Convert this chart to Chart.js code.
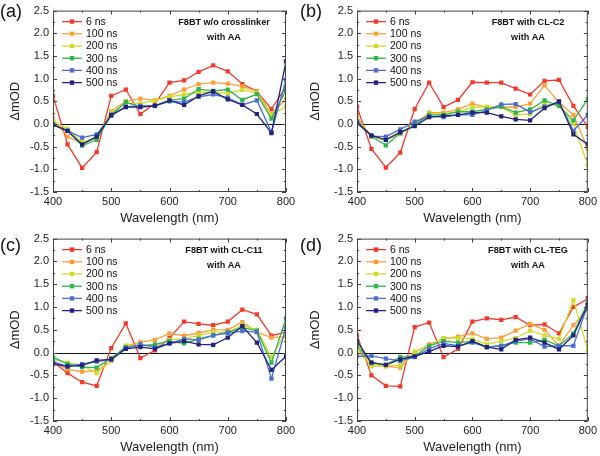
<!DOCTYPE html>
<html><head><meta charset="utf-8">
<script src="https://cdn.jsdelivr.net/npm/chart.js@4.4.0/dist/chart.umd.min.js"></script>
<style>
html,body{margin:0;padding:0;background:#fff;}
#wrap{position:relative;width:600px;height:456px;background:#fff;}
.p{position:absolute;width:300px;height:228px;}
canvas{display:block;}
</style></head><body>
<div id="wrap">
<div class="p" style="left:0;top:0"><canvas id="ca" width="300" height="228"></canvas></div>
<div class="p" style="left:300px;top:0"><canvas id="cb" width="300" height="228"></canvas></div>
<div class="p" style="left:0;top:228px"><canvas id="cc" width="300" height="228"></canvas></div>
<div class="p" style="left:300px;top:228px"><canvas id="cd" width="300" height="228"></canvas></div>
</div>
<script>
// ---- data ----
const wavelengths = [400,425,450,475,500,525,550,575,600,625,650,675,700,725,750,775,800];
const seriesLabels = ['6 ns','100 ns','200 ns','300 ns','400 ns','500 ns'];
const seriesColors = ['#f23a2c','#f9a03a','#cfdc2a','#2fb64a','#4a6fcf','#22237e'];
const xTickValues = [400,500,600,700,800];
const yTickValues = [-1.5,-1.0,-0.5,0.0,0.5,1.0,1.5,2.0,2.5];

// (a) F8BT w/o crosslinker with AA
const a_6ns   = [0.62,-0.45,-0.97,-0.62,0.62,0.76,0.22,0.45,0.91,0.96,1.15,1.29,1.16,0.88,0.72,0.33,0.82];
const a_100ns = [0.10,-0.28,-0.42,-0.30,0.28,0.50,0.56,0.52,0.62,0.76,0.88,0.91,0.89,0.83,0.72,0.22,0.55];
const a_200ns = [0.05,-0.10,-0.40,-0.30,0.25,0.45,0.45,0.52,0.60,0.65,0.70,0.70,0.67,0.75,0.68,0.20,0.38];
const a_300ns = [0.00,-0.15,-0.48,-0.35,0.20,0.48,0.38,0.40,0.52,0.56,0.77,0.73,0.76,0.53,0.66,0.12,0.75];
const a_400ns = [-0.02,-0.15,-0.30,-0.23,0.18,0.38,0.40,0.40,0.50,0.48,0.60,0.65,0.58,0.42,0.52,-0.18,0.97];
const a_500ns = [-0.02,-0.15,-0.45,-0.28,0.20,0.37,0.37,0.40,0.52,0.42,0.62,0.72,0.54,0.42,0.22,-0.20,1.38];

// (b) F8BT with CL-C2 with AA
const b_6ns   = [0.38,-0.55,-0.96,-0.63,0.33,0.91,0.37,0.53,0.92,0.91,0.91,0.78,0.65,0.95,0.97,0.40,-0.07];
const b_100ns = [0.15,-0.28,-0.35,-0.22,0.00,0.25,0.25,0.32,0.45,0.37,0.38,0.37,0.45,0.85,0.48,0.20,-0.55];
const b_200ns = [0.10,-0.28,-0.35,-0.20,0.00,0.23,0.23,0.27,0.37,0.38,0.37,0.20,0.22,0.45,0.40,0.00,-0.90];
const b_300ns = [0.07,-0.27,-0.47,-0.20,-0.02,0.20,0.20,0.27,0.27,0.32,0.38,0.25,0.32,0.52,0.40,0.08,0.55];
const b_400ns = [0.05,-0.27,-0.28,-0.12,0.05,0.17,0.15,0.20,0.20,0.30,0.43,0.44,0.26,0.38,0.48,-0.15,0.20];
const b_500ns = [0.02,-0.25,-0.35,-0.18,-0.05,0.15,0.18,0.20,0.25,0.25,0.17,0.10,0.08,0.35,0.50,-0.23,-0.45];

// (c) F8BT with CL-C11 with AA
const c_6ns   = [-0.20,-0.45,-0.65,-0.73,0.10,0.64,-0.12,0.05,0.32,0.68,0.63,0.60,0.68,0.94,0.84,0.37,0.45];
const c_100ns = [-0.20,-0.37,-0.42,-0.40,-0.18,0.15,0.23,0.28,0.42,0.37,0.43,0.50,0.50,0.67,0.45,0.33,0.35];
const c_200ns = [-0.15,-0.22,-0.28,-0.45,-0.18,0.15,0.15,0.15,0.28,0.30,0.38,0.45,0.45,0.60,0.50,-0.10,0.45];
const c_300ns = [-0.10,-0.25,-0.32,-0.33,-0.12,0.12,0.15,0.18,0.25,0.20,0.30,0.38,0.45,0.55,0.48,-0.22,0.75];
const c_400ns = [-0.20,-0.30,-0.25,-0.20,-0.15,0.10,0.18,0.12,0.20,0.30,0.28,0.38,0.43,0.47,0.45,-0.57,0.55];
const c_500ns = [-0.25,-0.30,-0.28,-0.17,-0.15,0.08,0.12,0.08,0.20,0.25,0.18,0.17,0.33,0.58,0.22,-0.38,-0.08];

// (d) F8BT with CL-TEG with AA
const d_6ns   = [0.38,-0.50,-0.73,-0.74,0.56,0.66,-0.10,0.08,0.68,0.75,0.72,0.78,0.60,0.62,0.42,1.00,1.18];
const d_100ns = [0.10,-0.27,-0.30,-0.33,0.00,0.18,0.30,0.35,0.42,0.30,0.33,0.48,0.63,0.50,0.15,0.60,0.95];
const d_200ns = [0.05,-0.30,-0.28,-0.28,0.02,0.15,0.32,0.32,0.30,0.18,0.25,0.32,0.48,0.38,0.30,1.15,0.05];
const d_300ns = [0.15,-0.22,-0.27,-0.10,-0.08,0.15,0.25,0.22,0.25,0.12,0.15,0.22,0.22,0.28,0.15,0.42,1.10];
const d_400ns = [-0.08,-0.07,-0.13,-0.18,-0.10,0.08,0.20,0.15,0.22,0.12,0.15,0.25,0.30,0.13,0.15,0.15,1.05];
const d_500ns = [0.25,-0.22,-0.27,-0.15,-0.08,0.02,0.15,0.13,0.25,0.12,0.07,0.28,0.33,0.22,0.07,0.38,1.05];

const panels = [
  {id:'ca', letter:'(a)', note:['F8BT w/o crosslinker','with AA'], series:[a_6ns,a_100ns,a_200ns,a_300ns,a_400ns,a_500ns], yw:53, top:5, right:14, xh:36, letterY:12},
  {id:'cb', letter:'(b)', note:['F8BT with CL-C2','with AA'], series:[b_6ns,b_100ns,b_200ns,b_300ns,b_400ns,b_500ns], yw:57, top:5, right:11, xh:36, letterY:12},
  {id:'cc', letter:'(c)', note:['F8BT with CL-C11','with AA'], series:[c_6ns,c_100ns,c_200ns,c_300ns,c_400ns,c_500ns], yw:53, top:7, right:14, xh:35, letterY:18},
  {id:'cd', letter:'(d)', note:['F8BT with CL-TEG','with AA'], series:[d_6ns,d_100ns,d_200ns,d_300ns,d_400ns,d_500ns], yw:57, top:7, right:11, xh:35, letterY:18}
];

const FONT = '"Liberation Sans", Arial, sans-serif';

const decor = {
  id: 'decor',
  beforeDatasetsDraw(chart) {
    const {ctx, chartArea: a, scales: {y}} = chart;
    const y0 = Math.round(y.getPixelForValue(0)) + 0.5;
    ctx.save();
    ctx.strokeStyle = '#111'; ctx.lineWidth = 1.2;
    ctx.beginPath(); ctx.moveTo(a.left, y0); ctx.lineTo(a.right, y0); ctx.stroke();
    ctx.restore();
  },
  afterDatasetsDraw(chart) {
    const {ctx, chartArea: a, scales: {x, y}} = chart;
    ctx.save();
    ctx.strokeStyle = '#444'; ctx.lineWidth = 1;
    ctx.strokeRect(a.left + 0.5, a.top + 0.5, a.right - a.left - 1, a.bottom - a.top - 1);
    ctx.beginPath();
    for (let v = x.min; v <= x.max + 0.001; v += 50) {
      const px = Math.round(x.getPixelForValue(v)) + 0.5;
      const L = (v % 100 === 0) ? 4 : 2;
      ctx.moveTo(px, a.bottom); ctx.lineTo(px, a.bottom - L);
      ctx.moveTo(px, a.top); ctx.lineTo(px, a.top + L);
    }
    for (let k = 0; k <= 16; k++) {
      const v = y.min + k * 0.25;
      const py = Math.round(y.getPixelForValue(v)) + 0.5;
      const L = (k % 2 === 0) ? 4 : 2;
      ctx.moveTo(a.left, py); ctx.lineTo(a.left + L, py);
      ctx.moveTo(a.right, py); ctx.lineTo(a.right - L, py);
    }
    ctx.stroke();
    ctx.restore();
  },
  afterDraw(chart, args, opts) {
    const {ctx, chartArea: a} = chart;
    const p = opts.panel;
    ctx.save();
    // legend
    const ds = chart.data.datasets;
    ctx.font = '10.5px ' + FONT;
    ctx.textBaseline = 'middle'; ctx.textAlign = 'left';
    ds.forEach((d, i) => {
      const yy = a.top + 11 + i * 12.2;
      ctx.strokeStyle = d.borderColor; ctx.lineWidth = 1.3;
      ctx.beginPath(); ctx.moveTo(a.left + 9, yy); ctx.lineTo(a.left + 29, yy); ctx.stroke();
      ctx.fillStyle = d.borderColor;
      ctx.fillRect(a.left + 19 - 2.2, yy - 2.2, 4.4, 4.4);
      ctx.fillStyle = '#111';
      ctx.fillText(d.label, a.left + 33, yy + 0.5);
    });
    // note
    ctx.font = 'bold 9.1px ' + FONT;
    ctx.textAlign = 'center';
    ctx.fillStyle = '#111';
    ctx.fillText(p.note[0], a.left + 171, a.top + 12);
    ctx.fillText(p.note[1], a.left + 171, a.top + 26.5);
    // axis titles
    ctx.font = '13px ' + FONT;
    ctx.fillStyle = '#222';
    ctx.fillText('Wavelength (nm)', (a.left + a.right) / 2, a.bottom + 26);
    ctx.save();
    ctx.translate(15, (a.top + a.bottom) / 2);
    ctx.rotate(-Math.PI / 2);
    ctx.fillText('\u0394mOD', 0, 0);
    ctx.restore();
    // panel letter
    ctx.font = '18px ' + FONT;
    ctx.textAlign = 'left';
    ctx.fillStyle = '#111';
    ctx.fillText(p.letter, 0, p.letterY);
    ctx.restore();
  }
};

panels.forEach(p => {
  const datasets = p.series.map((arr, i) => ({
    label: seriesLabels[i],
    data: wavelengths.map((w, j) => ({x: w, y: arr[j]})),
    borderColor: seriesColors[i],
    backgroundColor: seriesColors[i],
    borderWidth: 1.3,
    pointStyle: 'rect',
    pointRadius: 3,
    pointBorderWidth: 0,
    pointHoverRadius: 3,
    tension: 0,
    order: 6 - i
  }));
  new Chart(document.getElementById(p.id), {
    type: 'line',
    data: {datasets},
    options: {
      responsive: false,
      animation: false,
      devicePixelRatio: 1,
      layout: {padding: {top: p.top, right: p.right, left: 0, bottom: 0}},
      plugins: {legend: {display: false}, tooltip: {enabled: false}, decor: {panel: p}},
      scales: {
        x: {
          type: 'linear', min: 400, max: 800,
          afterBuildTicks: s => { s.ticks = xTickValues.map(v => ({value: v})); },
          afterFit: s => { s.height = p.xh; },
          grid: {display: false, drawTicks: false},
          border: {display: false},
          ticks: {padding: 3, color: '#222', font: {family: FONT, size: 11}, maxRotation: 0, callback: v => String(v)}
        },
        y: {
          type: 'linear', min: -1.5, max: 2.5,
          afterBuildTicks: s => { s.ticks = yTickValues.map(v => ({value: v})); },
          afterFit: s => { s.width = p.yw; },
          grid: {display: false, drawTicks: false},
          border: {display: false},
          ticks: {padding: 4, color: '#222', font: {family: FONT, size: 11}, callback: v => v.toFixed(1)}
        }
      }
    },
    plugins: [decor]
  });
});
</script>
</body></html>
